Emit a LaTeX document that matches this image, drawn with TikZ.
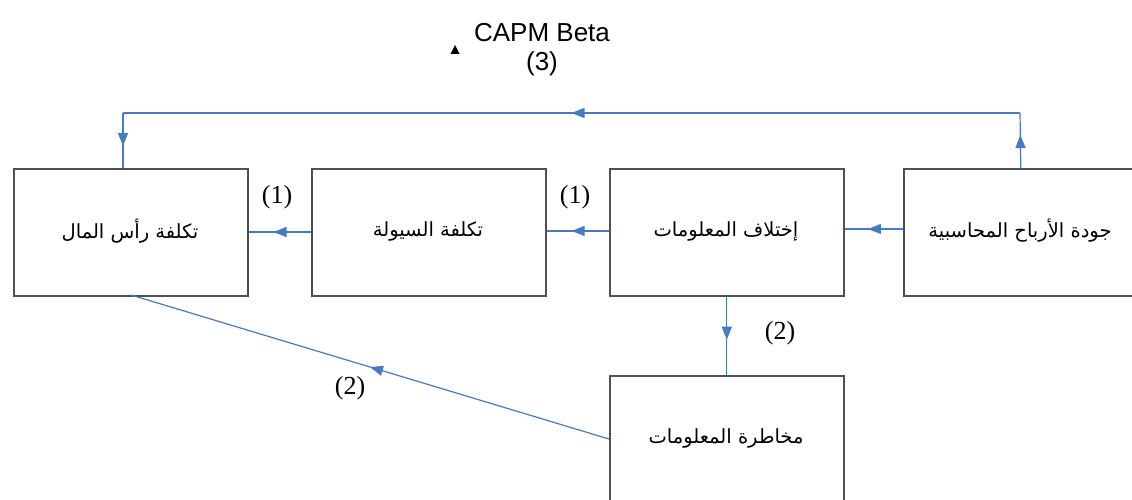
\documentclass[tikz,border=0pt]{standalone}
\usepackage{fontspec}
\setmainfont{Liberation Serif}
\newfontfamily\arabicfont[Script=Arabic]{DejaVu Sans}
\newfontfamily\lsans{Liberation Sans}
\TeXXeTstate=1
\usetikzlibrary{arrows.meta,decorations.markings}
\definecolor{lineblue}{RGB}{72,122,196}
\definecolor{boxgray}{RGB}{80,80,80}
\begin{document}
\begin{tikzpicture}[x=1pt,y=-1pt,
  box/.style={draw=boxgray,line width=1.6pt,minimum width=234pt,minimum height=127pt,inner sep=0pt,anchor=north west,fill=white},
  atext/.style={font=\arabicfont\fontsize{19.5}{22}\selectfont},
  conn/.style={draw=lineblue,line width=1.2pt},
  midarrow/.style={postaction={decorate},decoration={markings,mark=at position #1 with {\arrow[lineblue]{Triangle[length=13pt,width=10pt]}}}},
  num/.style={font=\fontsize{26}{29}\selectfont}
]
\useasboundingbox (0,0) rectangle (1132,500);
\clip (0,0) rectangle (1132,500);
\fill[white] (0,0) rectangle (1132,500);

\node[box] (b1) at (13,168) {};
\node[box] (b2) at (311,168) {};
\node[box] (b3) at (609,168) {};
\node[box] (b4) at (903,168) {};
\node[box] (b5) at (609,375) {};

\node[atext] (t1) at (130,231) {\beginR تكلفة رأس المال\endR};
\node[atext] (t2) at (428,231) {\beginR تكلفة السيولة\endR};
\node[atext] (t3) at (726,231) {\beginR إختلاف المعلومات\endR};
\node[atext] (t4) at (1020,231) {\beginR جودة الأرباح المحاسبية\endR};
\node[atext] (t5) at (726,438) {\beginR مخاطرة المعلومات\endR};

% horizontal chain
\draw[conn,midarrow=0.6] (b2.west |- 0,232) -- (b1.east |- 0,232);
\draw[conn,midarrow=0.6] (b3.west |- 0,231) -- (b2.east |- 0,231);
\draw[conn,midarrow=0.6] (b4.west |- 0,229) -- (b3.east |- 0,229);

% top loop
\coordinate (c1) at (1020,113);
\coordinate (c2) at (123,113);
\coordinate (b1top) at (123,168);
\draw[conn,midarrow=0.6] (b4.north) -- (c1);
\draw[conn,midarrow=0.5] (c1) -- (c2);
\draw[conn,midarrow=0.6] (c2) -- (b1top);

% down to risk box
\draw[conn,midarrow=0.55] (b3.south) -- (b5.north);

% diagonal
\coordinate (b5l) at (609,439);
\coordinate (b1b) at (131,295);
\draw[conn,midarrow=0.5] (b5l) -- (b1b);

% labels
\node[num] (n1) at (277,197) {(1)};
\node[num] (n2) at (575,197) {(1)};
\node[num] (n3) at (780,333) {(2)};
\node[num] (n4) at (350,388) {(2)};
\node[font=\lsans\fontsize{26}{29}\selectfont] (capm) at (542,33) {CAPM Beta};
\node[font=\lsans\fontsize{26}{29}\selectfont] (three) at (542,64) {(3)};
\fill[black] (450.5,54) -- (459.5,54) -- (455,45) -- cycle;
\end{tikzpicture}
\end{document}
